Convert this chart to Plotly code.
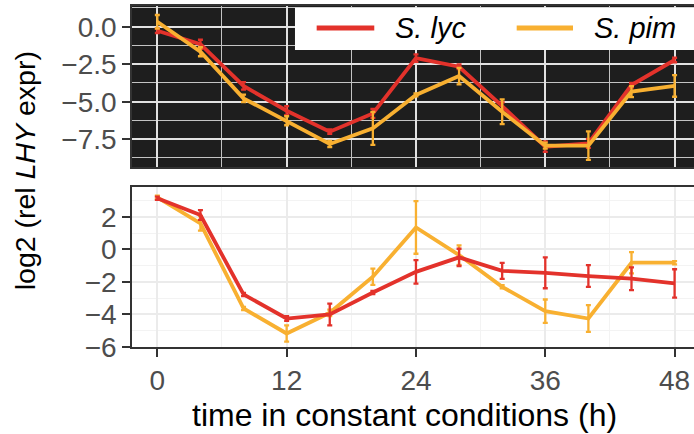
import plotly.graph_objects as go

# Sampling times (h in constant conditions)
time_h = [0, 4, 8, 12, 16, 20, 24, 28, 32, 36, 40, 44, 48]

# Upper panel: log2 relative LHY expression
lyc_upper = [-0.27, -1.17, -3.95, -5.60, -7.00, -5.78, -2.10, -2.67, -5.29, -8.00, -7.78, -3.89, -2.22]
lyc_upper_err = [0.15, 0.30, 0.25, 0.30, 0.15, 0.30, 0.25, 0.15, 0.25, 0.35, 0.30, 0.15, 0.15]
pim_upper = [0.33, -1.67, -4.78, -6.27, -7.82, -6.78, -4.55, -3.29, -5.67, -7.93, -7.93, -4.33, -3.95]
pim_upper_err = [0.45, 0.30, 0.25, 0.30, 0.20, 1.10, 0.10, 0.55, 0.83, 0.20, 0.95, 0.37, 0.72]

# Lower panel: log2 relative LHY expression
lyc_lower = [3.14, 2.11, -2.77, -4.25, -4.00, -2.65, -1.38, -0.49, -1.32, -1.44, -1.64, -1.80, -2.09]
lyc_lower_err = [0.10, 0.30, 0.10, 0.15, 0.67, 0.10, 0.72, 0.53, 0.49, 0.95, 0.67, 0.70, 0.87]
pim_lower = [3.20, 1.60, -3.63, -5.17, -3.90, -1.68, 1.35, -0.35, -2.30, -3.80, -4.25, -0.82, -0.82]
pim_lower_err = [0.10, 0.45, 0.10, 0.50, 0.20, 0.50, 1.62, 0.60, 0.10, 0.72, 0.82, 0.65, 0.10]

series_names = ["S. lyc", "S. pim"]
RED = "#E3322B"
ORANGE = "#F8B031"
FONT = "Liberation Sans, Arial, Helvetica, sans-serif"


def line_trace(y, err, color, xa, ya):
    return go.Scatter(
        x=time_h, y=y, mode="lines", xaxis=xa, yaxis=ya,
        line=dict(color=color, width=3.8),
        error_y=dict(type="data", array=err, visible=True, color=color,
                     thickness=2.3, width=2.5),
        showlegend=False,
    )


fig = go.Figure()
# upper panel: orange drawn over red
fig.add_trace(line_trace(lyc_upper, lyc_upper_err, RED, "x2", "y2"))
fig.add_trace(line_trace(pim_upper, pim_upper_err, ORANGE, "x2", "y2"))
# lower panel: red drawn over orange
fig.add_trace(line_trace(pim_lower, pim_lower_err, ORANGE, "x", "y"))
fig.add_trace(line_trace(lyc_lower, lyc_lower_err, RED, "x", "y"))

tick_font = dict(family=FONT, size=28, color="#4D4D4D")
x_range = [-2.35, 49.8]

fig.update_layout(
    width=694, height=434,
    margin=dict(l=132, r=0, t=6, b=87),
    paper_bgcolor="white", plot_bgcolor="white",
    font=dict(family=FONT),
    xaxis=dict(
        domain=[0, 1], anchor="y", range=x_range,
        tickvals=[0, 12, 24, 36, 48], ticks="outside", ticklen=8, tickwidth=1.6,
        tickcolor="#333333", tickfont=tick_font,
        showgrid=True, gridcolor="#EBEBEB", gridwidth=1.8,
        minor=dict(dtick=6, tick0=0, showgrid=True, gridcolor="#F3F3F3", gridwidth=0.9),
        showline=True, linecolor="#333333", linewidth=1.6, mirror=True,
        zeroline=False,
    ),
    yaxis=dict(
        domain=[0, 0.469], anchor="x", range=[-6.0, 3.83],
        tickvals=[2, 0, -2, -4, -6], ticks="outside", ticklen=8, tickwidth=1.6,
        tickcolor="#333333", tickfont=tick_font,
        showgrid=True, gridcolor="#EBEBEB", gridwidth=1.8,
        minor=dict(dtick=2, tick0=1, showgrid=True, gridcolor="#F3F3F3", gridwidth=0.9),
        showline=True, linecolor="#333333", linewidth=1.6, mirror=False,
        zeroline=False,
    ),
    xaxis2=dict(
        domain=[0, 1], anchor="y2", range=x_range, matches="x",
        tickvals=[0, 12, 24, 36, 48], showticklabels=False, ticks="",
        showgrid=True, gridcolor="#E2E2E2", gridwidth=1.8,
        minor=dict(dtick=6, tick0=0, showgrid=True, gridcolor="#C4C4C4", gridwidth=0.9),
        showline=True, linecolor="#333333", linewidth=1.6, mirror=True,
        zeroline=False,
    ),
    yaxis2=dict(
        domain=[0.528, 1], anchor="x2", range=[-9.35, 1.38],
        tickvals=[0, -2.5, -5, -7.5], tickformat=".1f",
        ticks="outside", ticklen=8, tickwidth=1.6,
        tickcolor="#333333", tickfont=tick_font,
        showgrid=True, gridcolor="#E2E2E2", gridwidth=1.8,
        minor=dict(dtick=2.5, tick0=-1.25, showgrid=True, gridcolor="#C4C4C4", gridwidth=0.9),
        showline=True, linecolor="#333333", linewidth=1.6, mirror=False,
        zeroline=False,
    ),
)

# dark background of the upper panel
fig.add_shape(type="rect", xref="x2 domain", yref="y2 domain", x0=0, x1=1, y0=0, y1=1,
              fillcolor="#1E1E1E", line=dict(width=0), layer="below")

# legend box inside the upper panel
fig.add_shape(type="rect", xref="paper", yref="paper", x0=0.290, x1=1.0, y0=0.871, y1=0.995,
              fillcolor="white", line=dict(width=0), layer="above")
legend_items = [(series_names[0], RED, 0.3286, 0.4311, 0.4644),
                (series_names[1], ORANGE, 0.6845, 0.7847, 0.8185)]
for name, color, lx0, lx1, tx in legend_items:
    fig.add_shape(type="line", xref="paper", yref="paper", x0=lx0, x1=lx1, y0=0.9355, y1=0.9355,
                  line=dict(color=color, width=5), layer="above")
    fig.add_annotation(xref="paper", yref="paper", x=tx, y=0.9355, xanchor="left", yanchor="middle",
                       text=f"<i>{name}</i>", showarrow=False,
                       font=dict(family=FONT, size=29, color="black"))

# axis titles
fig.add_annotation(xref="paper", yref="paper", x=-0.190, y=0.516, textangle=-90,
                   text="log2 (rel <i>LHY</i> expr)", showarrow=False,
                   xanchor="center", yanchor="middle",
                   font=dict(family=FONT, size=28.5, color="black"))
fig.add_annotation(xref="paper", yref="paper", x=0.484, y=-0.200,
                   text="time in constant conditions (h)", showarrow=False,
                   xanchor="center", yanchor="middle",
                   font=dict(family=FONT, size=32, color="black"))

fig.write_html("out.html")
